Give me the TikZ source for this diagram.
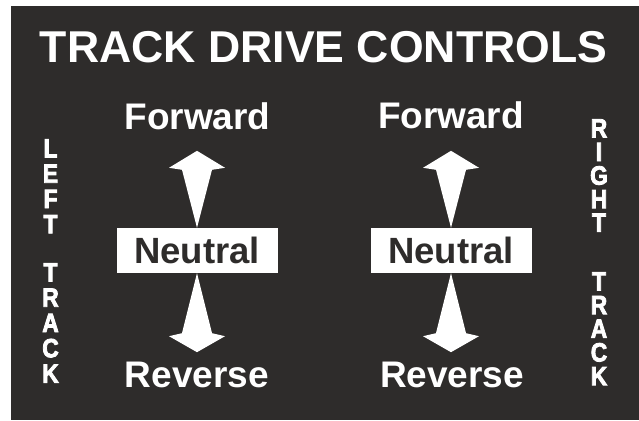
\documentclass[tikz,border=0pt]{standalone}
\usepackage{fontspec}
\setmainfont{Liberation Sans}
\newfontfamily\trackfont[FakeStretch=0.86, FakeBold=3]{Liberation Sans}
\usetikzlibrary{calc}
\definecolor{panel}{HTML}{2E2C2B}

\begin{document}
\begin{tikzpicture}[x=1pt, y=-1pt,
  dirtext/.style={text=white, inner sep=0pt, anchor=base,
    font=\fontsize{37}{40}\selectfont\bfseries},
  neutral/.style={fill=white, text=panel, inner sep=0pt,
    minimum width=161pt, minimum height=45pt,
    font=\fontsize{36.5}{40}\selectfont\bfseries},
  side/.style={text=white, inner sep=0pt, anchor=north, align=center,
    font=\trackfont\fontsize{26.5}{25.3}\selectfont\bfseries}]
\useasboundingbox (0,0) rectangle (639,420);
\fill[white] (0,0) rectangle (639,420);
\fill[panel] (11,6) rectangle (639,420);

\node[dirtext, font=\fontsize{44.6}{48}\selectfont\bfseries] at (323.5,63) (title) {TRACK DRIVE CONTROLS};

% left track
\node[dirtext] at (197.5,129) (fwd1) {Forward};
\node[neutral] at (197,250.5) (neu1) {Neutral};
\node[dirtext] at (197,387) (rev1) {Reverse};
\fill[white] (neu1.north) -- ++(-15,-58) -- ++(-13,-2) -- ++(28,-17) -- ++(28,17) -- ++(-13,2) -- cycle;
\fill[white] (neu1.south) -- ++(-15,60) -- ++(-13,3) -- ++(28,16) -- ++(28,-16) -- ++(-13,-3) -- cycle;

% right track
\node[dirtext] at (451,128) (fwd2) {Forward};
\node[neutral] at (451,250.5) (neu2) {Neutral};
\node[dirtext] at (452,387) (rev2) {Reverse};
\fill[white] (neu2.north) -- ++(-15,-58) -- ++(-13,-2) -- ++(28,-17) -- ++(28,17) -- ++(-13,2) -- cycle;
\fill[white] (neu2.south) -- ++(-15,60) -- ++(-13,3) -- ++(28,16) -- ++(28,-16) -- ++(-13,-3) -- cycle;

% side labels
\node[side] at (50.5,139) (left1) {L\\E\\F\\T};
\node[side] at (50.5,263) (left2) {T\\R\\A\\C\\K};
\node[side, font=\trackfont\fontsize{26.5}{23.6}\selectfont\bfseries] at (599,119) (right1) {R\\I\\G\\H\\T};
\node[side, font=\trackfont\fontsize{26.5}{23.7}\selectfont\bfseries] at (599,272) (right2) {T\\R\\A\\C\\K};
\end{tikzpicture}
\end{document}
